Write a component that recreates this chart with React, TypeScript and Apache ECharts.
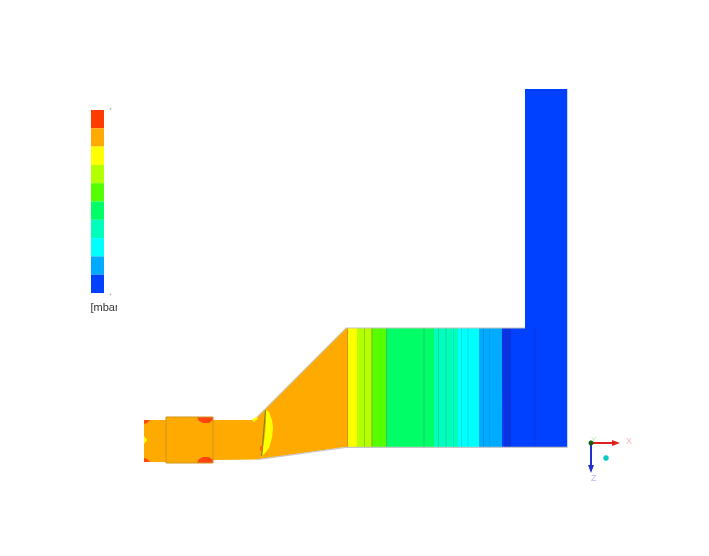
import React, { useEffect, useRef } from "react";
import * as echarts from "echarts";

type Pt = [number, number];
type Shape = { points: Pt[]; fill: string; stroke?: string; width?: number };

const legendColors = ["#ff3c00", "#ffaa00", "#ffff00", "#b4ff00", "#55ff00", "#00ff66", "#00ffbb", "#00ffff", "#00aaff", "#0040ff"];
const legendTop = 110;
const legendBottom = 293;
const legendLeft = 91;
const legendRight = 104;

// Band edges along the horizontal duct, with the contour level shown in each band
const bandEdges = [345, 347.5, 357, 372, 386, 434, 458, 479, 502, 567];
const bandColors = ["#ffaa00", "#ffff00", "#b4ff00", "#55ff00", "#00ff66", "#00ffbb", "#00ffff", "#00aaff", "#0040ff"];
const ductTop = 328;
const ductBottom = 447;
const meshLines: [number, string][] = [
  [347, "#d89410"], [364, "#98cc00"], [371.5, "#8aa800"], [386, "#38c850"], [423.5, "#20c868"],
  [438, "#00d8a8"], [445.5, "#00d8a8"], [453, "#00e4c0"], [461, "#00e0e0"], [467.5, "#00e0e0"],
  [483, "#0094e0"], [489, "#00a0ec"], [534.5, "#0a38dc"],
];

const column: Pt[] = [[525, 89], [567, 89], [567, 447], [525, 447]];
const diffuser: Pt[] = [[254, 420], [346, 328], [346, 447], [257, 459.5]];
const inlet: Pt[] = [[144, 420], [166, 420], [166, 462], [144, 462]];
const box: Pt[] = [[166, 417], [213, 417], [213, 463], [166, 463]];
const neck: Pt[] = [[213, 420], [256, 420], [258, 459.5], [213, 460]];
const darkBlueZone: Pt[] = [[502, 328], [511, 328], [511, 447], [504, 447]];
const capTop: Pt[] = [[197, 417], [213, 417], [213, 420], [209, 423], [203, 423], [199, 421]];
const capBottom: Pt[] = [[197, 463], [213, 463], [213, 460], [209, 457], [203, 457], [199, 459]];
const cornerTop: Pt[] = [[144, 420], [150, 420], [147, 423], [144, 424]];
const cornerBottom: Pt[] = [[144, 458], [147, 459], [150, 462], [144, 462]];
const inletSpot: Pt[] = [[144, 436], [147, 440], [144, 444]];
const crescent: Pt[] = [[265, 409], [269, 412], [272, 420], [273, 428], [272, 438], [269, 448], [265, 453], [262, 456], [263, 448], [265, 435], [266, 422]];
const elbowSpot: Pt[] = [[252, 420], [256, 417], [258, 418.5], [254, 422]];
const vane: Pt[] = [[265, 410], [266.2, 410], [262.2, 456], [261, 456]];
const vaneSpot: Pt[] = [[260, 446], [262.5, 446], [262.5, 451], [260, 451]];
const xArrow: Pt[] = [[591, 442], [612, 442], [612, 440], [620, 443], [612, 446], [612, 444], [591, 444]];
const zArrow: Pt[] = [[590, 443], [592, 443], [592, 465], [594, 465], [591, 473], [588, 465], [590, 465]];
const topEdge: Pt[] = [[254, 419.5], [346, 327.5], [525, 327.5], [525, 328.5], [346.4, 328.5], [254.6, 420.5]];
const bottomEdge: Pt[] = [[257, 459], [346, 446.8], [567, 446.8], [567, 448], [346, 448], [257, 460.2]];
const rightEdge: Pt[] = [[567, 89], [568, 89], [568, 448], [567, 448]];

const shapes: Shape[] = [
  ...bandColors.map((fill, i): Shape => ({
    points: [[bandEdges[i], ductTop], [bandEdges[i + 1], ductTop], [bandEdges[i + 1], ductBottom], [bandEdges[i], ductBottom]],
    fill,
  })),
  { points: column, fill: "#0040ff" },
  { points: darkBlueZone, fill: "#0a34e0" },
  ...meshLines.map(([x, color]): Shape => ({
    points: [[x, ductTop], [x + 1, ductTop], [x + 1, ductBottom], [x, ductBottom]],
    fill: color,
  })),
  { points: diffuser, fill: "#ffaa00" },
  { points: neck, fill: "#ffaa00" },
  { points: inlet, fill: "#ffaa00" },
  { points: box, fill: "#ffaa00" },
  { points: capTop, fill: "#ff4410" },
  { points: capBottom, fill: "#ff4410" },
  { points: box, fill: "rgba(0,0,0,0)", stroke: "#cc9420", width: 1 },
  { points: topEdge, fill: "#c8c4b8" },
  { points: bottomEdge, fill: "#c8c8c8" },
  { points: rightEdge, fill: "#c9d2f0" },
  { points: cornerTop, fill: "#ff4410" },
  { points: cornerBottom, fill: "#ff4410" },
  { points: inletSpot, fill: "#ffff00" },
  { points: elbowSpot, fill: "#ffff00" },
  { points: crescent, fill: "#ffff00" },
  { points: vane, fill: "#7a8a10" },
  { points: vaneSpot, fill: "#ff6a00" },
  { points: zArrow, fill: "#1f2fd0" },
  { points: xArrow, fill: "#e02020" },
  ...legendColors.map((fill, i): Shape => {
    const h = (legendBottom - legendTop) / legendColors.length;
    return {
      points: [[legendLeft, legendTop + i * h], [legendRight, legendTop + i * h], [legendRight, legendTop + (i + 1) * h], [legendLeft, legendTop + (i + 1) * h]],
      fill,
    };
  }),
];

const markers: { x: number; y: number; r: number; color: string }[] = [
  { x: 591, y: 443, r: 2.5, color: "#106010" },
  { x: 606, y: 458, r: 2.8, color: "#10c8c8" },
  { x: 110.5, y: 109, r: 0.8, color: "#b0b0b0" },
  { x: 110.5, y: 294.5, r: 0.8, color: "#b0b0b0" },
];

export default function App() {
  const ref = useRef<HTMLDivElement>(null);
  useEffect(() => {
    const chart = echarts.init(ref.current!, undefined, { renderer: "svg" });
    chart.setOption({
      animation: false,
      backgroundColor: "#ffffff",
      grid: { left: 0, right: 0, top: 0, bottom: 0 },
      xAxis: { type: "value", min: 0, max: 709, show: false },
      yAxis: { type: "value", min: 0, max: 556, inverse: true, show: false },
      series: [
        {
          type: "custom",
          coordinateSystem: "cartesian2d",
          silent: true,
          clip: false,
          data: shapes.map((_, i) => [i]),
          renderItem: (params: any, api: any) => {
            const s = shapes[params.dataIndex];
            return {
              type: "polygon",
              shape: { points: s.points.map((p) => api.coord(p)) },
              style: { fill: s.fill, stroke: s.stroke ?? "none", lineWidth: s.width ?? 0 },
            };
          },
        },
        {
          type: "custom",
          coordinateSystem: "cartesian2d",
          silent: true,
          data: markers.map((m) => [m.x, m.y]),
          renderItem: (params: any, api: any) => {
            const m = markers[params.dataIndex];
            const c = api.coord([m.x, m.y]);
            return { type: "circle", shape: { cx: c[0], cy: c[1], r: m.r }, style: { fill: m.color } };
          },
        },
      ],
      graphic: [
        { type: "text", x: 90.5, y: 301, z: 10, style: { text: "[mbar]", font: "11px 'Liberation Sans', Arial, sans-serif", fill: "#333333" } },
        { type: "rect", shape: { x: 117, y: 296, width: 30, height: 22 }, z: 11, style: { fill: "#ffffff" } },
        { type: "text", x: 626, y: 436, z: 10, style: { text: "X", font: "9px 'Liberation Sans', Arial, sans-serif", fill: "#f8b8b8" } },
        { type: "text", x: 591, y: 473, z: 10, style: { text: "Z", font: "9px 'Liberation Sans', Arial, sans-serif", fill: "#b8b8f0" } },
        { type: "text", x: 591, y: 435, z: 10, style: { text: "Y", font: "8px 'Liberation Sans', Arial, sans-serif", fill: "#b8e8b8" } },
      ],
    });
    return () => chart.dispose();
  }, []);
  return (
    <div
      ref={ref}
      style={{ position: "fixed", left: 0, top: 0, width: 709, height: 556, filter: "blur(0.7px)" }}
    />
  );
}
